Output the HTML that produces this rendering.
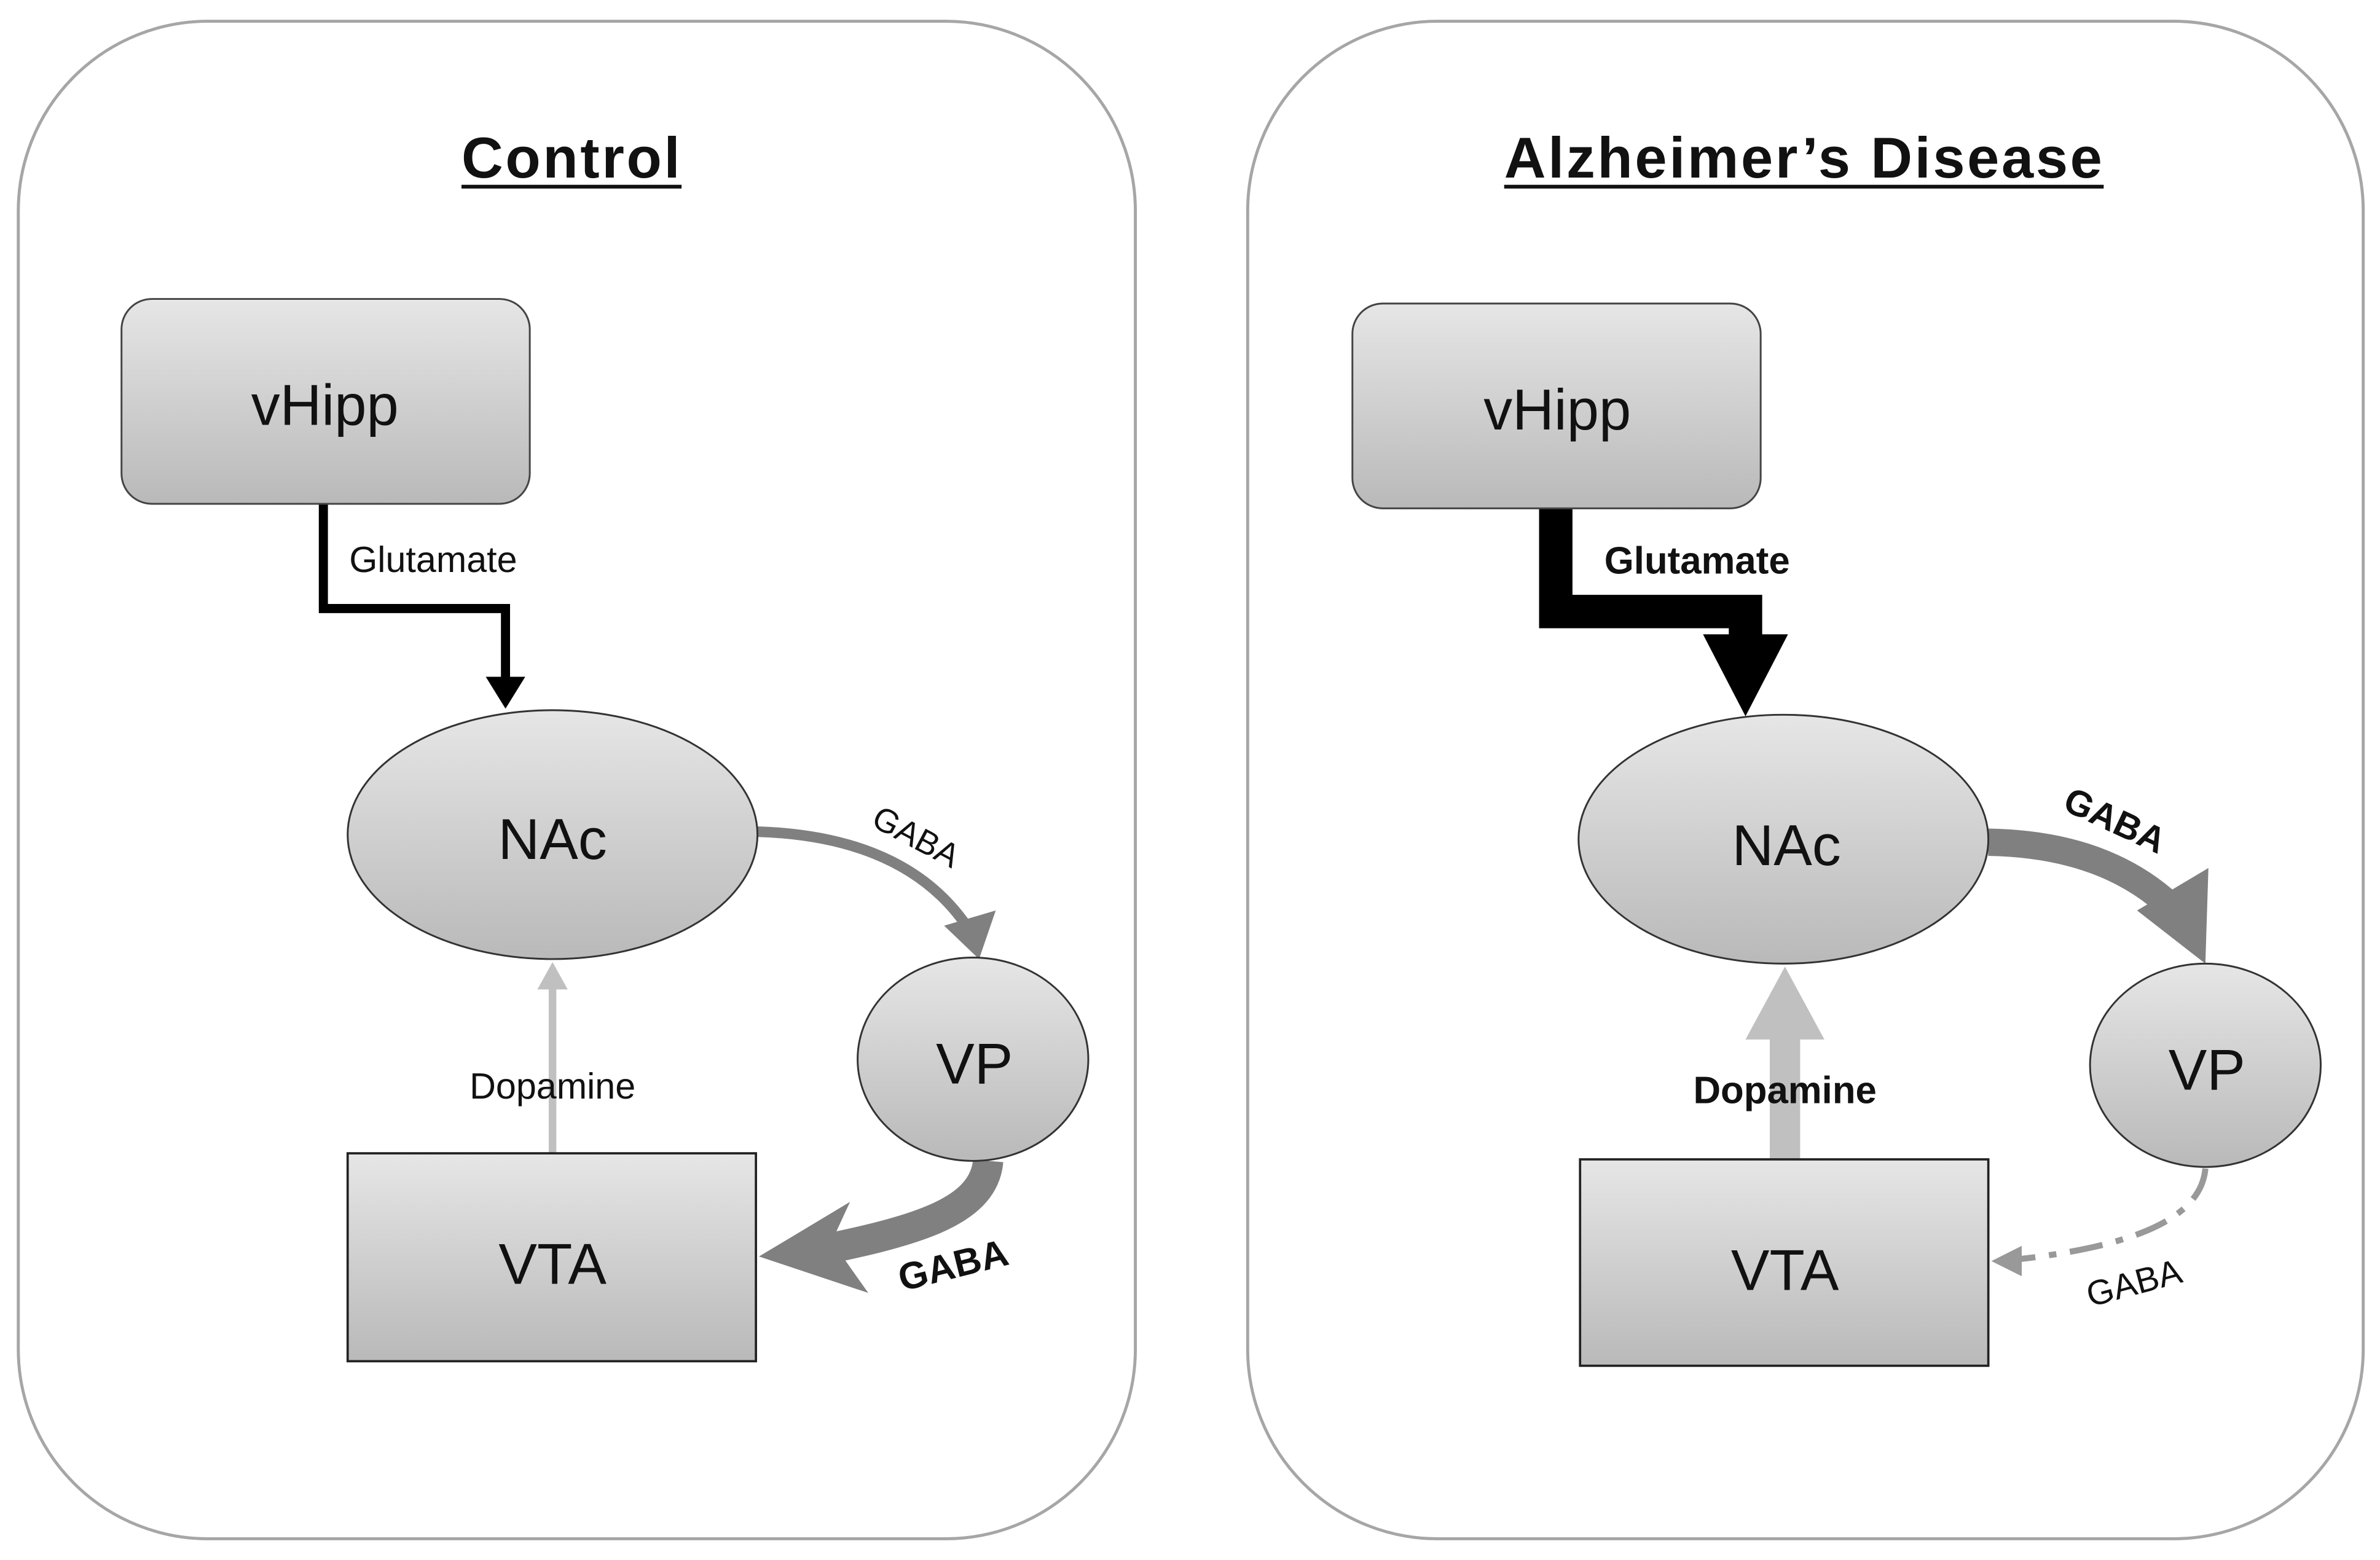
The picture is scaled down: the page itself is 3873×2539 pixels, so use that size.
<!DOCTYPE html>
<html><head><meta charset="utf-8"><style>
html,body{margin:0;padding:0;background:#fff;}
svg{display:block;}
text{font-family:"Liberation Sans",sans-serif;}
</style></head><body>
<svg width="3873" height="2539" viewBox="0 0 1568 1028" xmlns="http://www.w3.org/2000/svg">
<defs>
<linearGradient id="g" x1="0" y1="0" x2="0" y2="1">
<stop offset="0" stop-color="#e6e6e6"/><stop offset="1" stop-color="#b9b9b9"/>
</linearGradient>
</defs>
<rect x="0" y="0" width="1568" height="1028" fill="#fff"/>
<rect x="12" y="14" width="736" height="1000" rx="125" fill="#fff" stroke="#a6a6a6" stroke-width="2"/>
<rect x="822" y="14" width="735" height="1000" rx="125" fill="#fff" stroke="#a6a6a6" stroke-width="2"/>
<text x="376" y="117" font-size="38" font-weight="bold" text-anchor="middle" fill="#111" textLength="144">Control</text>
<line x1="304" y1="123" x2="449" y2="123" stroke="#111" stroke-width="2.5"/>
<text x="1188" y="117" font-size="38" font-weight="bold" text-anchor="middle" fill="#111" textLength="394">Alzheimer’s Disease</text>
<line x1="991" y1="123" x2="1386" y2="123" stroke="#111" stroke-width="2.5"/>

<polyline points="213,332 213,401 333,401 333,452" fill="none" stroke="#000" stroke-width="6"/>
<polygon points="320,446 346,446 333,467" fill="#000"/>
<text x="230" y="377" font-size="24" fill="#111">Glutamate</text>
<line x1="364" y1="760" x2="364" y2="650" stroke="#c0c0c0" stroke-width="5"/>
<polygon points="354,652 374,652 364,634" fill="#c0c0c0"/>
<text x="364" y="724" font-size="24" text-anchor="middle" fill="#111">Dopamine</text>
<path d="M498,548 C570,550 615,575 640,615" fill="none" stroke="#808080" stroke-width="7"/>
<polygon points="622,610 656,600 645,632" fill="#808080"/>
<text x="600" y="558" font-size="22" fill="#111" text-anchor="middle" transform="rotate(28 600 558)">GABA</text>
<path d="M651,765 C648,800 600,812 530,826" fill="none" stroke="#808080" stroke-width="20"/>
<polygon points="500,828 560,792 548,818 572,852" fill="#808080"/>
<text x="630" y="842" font-size="25" font-weight="bold" text-anchor="middle" fill="#111" transform="rotate(-14 630 842)">GABA</text>

<rect x="80" y="197" width="269" height="135" rx="20" fill="url(#g)" stroke="#444" stroke-width="1.2"/>
<text x="214" y="280" font-size="38" text-anchor="middle" fill="#111">vHipp</text>
<ellipse cx="364" cy="550" rx="135" ry="82" fill="url(#g)" stroke="#333" stroke-width="1.2"/>
<text x="364" y="566" font-size="38" text-anchor="middle" fill="#111">NAc</text>
<ellipse cx="641" cy="698" rx="76" ry="67" fill="url(#g)" stroke="#333" stroke-width="1.2"/>
<text x="642" y="714" font-size="38" text-anchor="middle" fill="#111">VP</text>
<rect x="229" y="760" width="269" height="137" fill="url(#g)" stroke="#222" stroke-width="1.5"/>
<text x="364" y="846" font-size="38" text-anchor="middle" fill="#111">VTA</text>

<polyline points="1025,335 1025,403 1150,403 1150,425" fill="none" stroke="#000" stroke-width="22"/>
<polygon points="1122,418 1178,418 1150,472" fill="#000"/>
<text x="1057" y="378" font-size="25" font-weight="bold" fill="#111">Glutamate</text>
<line x1="1176" y1="764" x2="1176" y2="680" stroke="#c0c0c0" stroke-width="20"/>
<polygon points="1150,685 1202,685 1176,637" fill="#c0c0c0"/>
<text x="1176" y="727" font-size="25" font-weight="bold" text-anchor="middle" fill="#111">Dopamine</text>
<path d="M1310,555 C1370,556 1410,575 1438,605" fill="none" stroke="#808080" stroke-width="18"/>
<polygon points="1408,600 1455,572 1453,635" fill="#808080"/>
<text x="1390" y="548" font-size="24" font-weight="bold" fill="#111" text-anchor="middle" transform="rotate(25 1390 548)">GABA</text>
<path d="M1453,770 C1450,805 1400,822 1328,830" fill="none" stroke="#999" stroke-width="4" stroke-dasharray="22,9,5,9"/>
<polygon points="1312,831 1332,821 1332,841" fill="#999"/>
<text x="1408" y="853" font-size="23" text-anchor="middle" fill="#111" transform="rotate(-15 1408 853)">GABA</text>

<rect x="891" y="200" width="269" height="135" rx="20" fill="url(#g)" stroke="#444" stroke-width="1.2"/>
<text x="1026" y="283" font-size="38" text-anchor="middle" fill="#111">vHipp</text>
<ellipse cx="1175" cy="553" rx="135" ry="82" fill="url(#g)" stroke="#333" stroke-width="1.2"/>
<text x="1177" y="570" font-size="38" text-anchor="middle" fill="#111">NAc</text>
<ellipse cx="1453" cy="702" rx="76" ry="67" fill="url(#g)" stroke="#333" stroke-width="1.2"/>
<text x="1454" y="718" font-size="38" text-anchor="middle" fill="#111">VP</text>
<rect x="1041" y="764" width="269" height="136" fill="url(#g)" stroke="#222" stroke-width="1.5"/>
<text x="1176" y="850" font-size="38" text-anchor="middle" fill="#111">VTA</text>
</svg>
</body></html>
